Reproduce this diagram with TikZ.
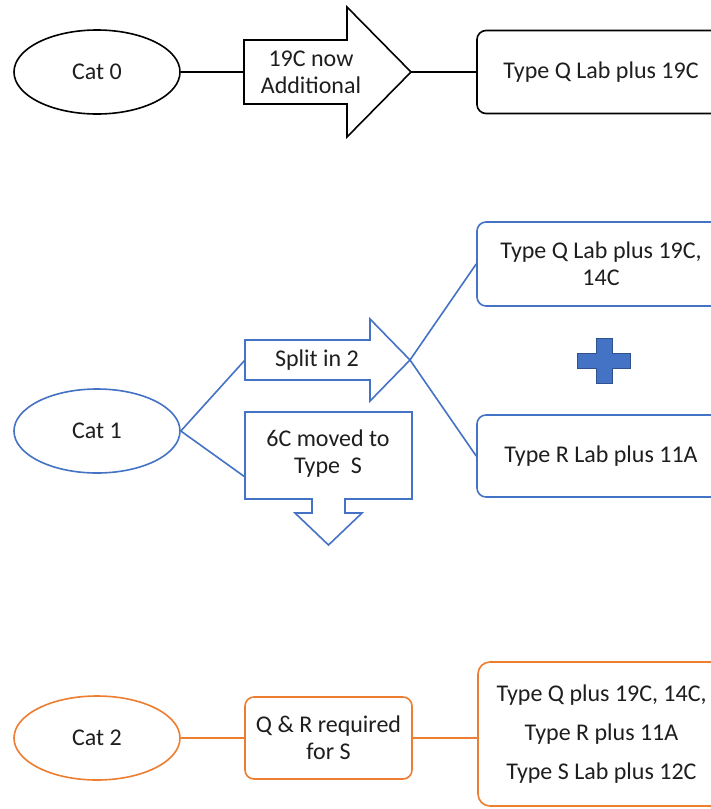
\documentclass[tikz,border=0pt]{standalone}
\usepackage{fontspec}
\setmainfont{Carlito}
\usetikzlibrary{shapes.geometric,calc}
\definecolor{cblue}{RGB}{68,114,196}
\definecolor{cbluedark}{RGB}{47,82,143}
\definecolor{corange}{RGB}{237,125,49}
\definecolor{ctext}{RGB}{30,30,30}
\begin{document}
\begin{tikzpicture}[x=1pt,y=-1pt,
  every node/.style={font=\fontsize{24}{27}\selectfont, text=ctext, align=center},
  ln/.style={line width=1.6pt},
  catell/.style={ellipse, ln, minimum width=166pt, minimum height=84pt, inner sep=0pt},
  rbox/.style={rectangle, ln, rounded corners=9pt, inner sep=0pt},
  shapeline/.style={ln, fill=white, line join=miter},
]
\clip (0,0) rectangle (711,809);
\fill[white] (0,0) rectangle (711,809);

% ---------- Row 0 ----------
\node[catell, draw=black] (c0) at (97,72) {Cat 0};
\draw[shapeline, draw=black] (244,40) -- (347,40) -- (347,7) -- (411,72) -- (347,137) -- (347,104) -- (244,104) -- cycle;
\node (a0) at (311,72) {19C now\\Additional};
\coordinate (a0tail) at (244,72);
\coordinate (a0tip) at (411,72);
\node[rbox, draw=black, minimum width=248pt, minimum height=83pt] (q0) at (601,72) {Type Q Lab plus 19C};
\draw[ln, black] (c0.east) -- (a0tail);
\draw[ln, black] (a0tip) -- (q0.west);

% ---------- Row 1 ----------
\node[catell, draw=cblue] (c1) at (97,431) {Cat 1};
\draw[shapeline, draw=cblue] (245,340) -- (370,340) -- (370,319) -- (410,360) -- (370,401) -- (370,380) -- (245,380) -- cycle;
\node (s1) at (317,360) {Split in 2};
\coordinate (s1tail) at (245,360);
\coordinate (s1tip) at (410,360);
\draw[shapeline, draw=cblue] (245,412) -- (412,412) -- (412,499) -- (345,499) -- (345,513) -- (362,513) -- (328.5,545) -- (295,513) -- (312,513) -- (312,499) -- (245,499) -- cycle;
\node (m1) at (328,453.5) {6C moved to\\Type\ \ S};
\coordinate (m1in) at (245,477);
\node[rbox, draw=cblue, minimum width=248pt, minimum height=84pt] (q1) at (601,264) {Type Q Lab plus 19C,\\14C};
\node[rbox, draw=cblue, minimum width=248pt, minimum height=82pt] (r1) at (601,456) {Type R Lab plus 11A};
\draw[fill=cblue, draw=cbluedark, line width=0.8pt] (596,338) -- (612,338) -- (612,353) -- (630,353) -- (630,368) -- (612,368) -- (612,383) -- (596,383) -- (596,368) -- (577,368) -- (577,353) -- (596,353) -- cycle;
\draw[ln, cblue] (c1.east) -- (s1tail);
\draw[ln, cblue] (c1.east) -- (m1in);
\draw[ln, cblue] (s1tip) -- (q1.west);
\draw[ln, cblue] (s1tip) -- (r1.west);

% ---------- Row 2 ----------
\node[catell, draw=corange] (c2) at (97,738) {Cat 2};
\node[rbox, draw=corange, minimum width=167pt, minimum height=82pt] (qr) at (328.5,738) {Q \& R required\\for S};
\node[rbox, draw=corange, rounded corners=12pt, minimum width=247pt, minimum height=144pt,
      font=\fontsize{24}{39}\selectfont] (big) at (601.5,734) {Type Q plus 19C, 14C,\\Type R plus 11A\\Type S Lab plus 12C};
\draw[ln, corange] (c2.east) -- (qr.west);
\draw[ln, corange] (qr.east) -- (qr.east -| big.west);
\end{tikzpicture}
\end{document}
